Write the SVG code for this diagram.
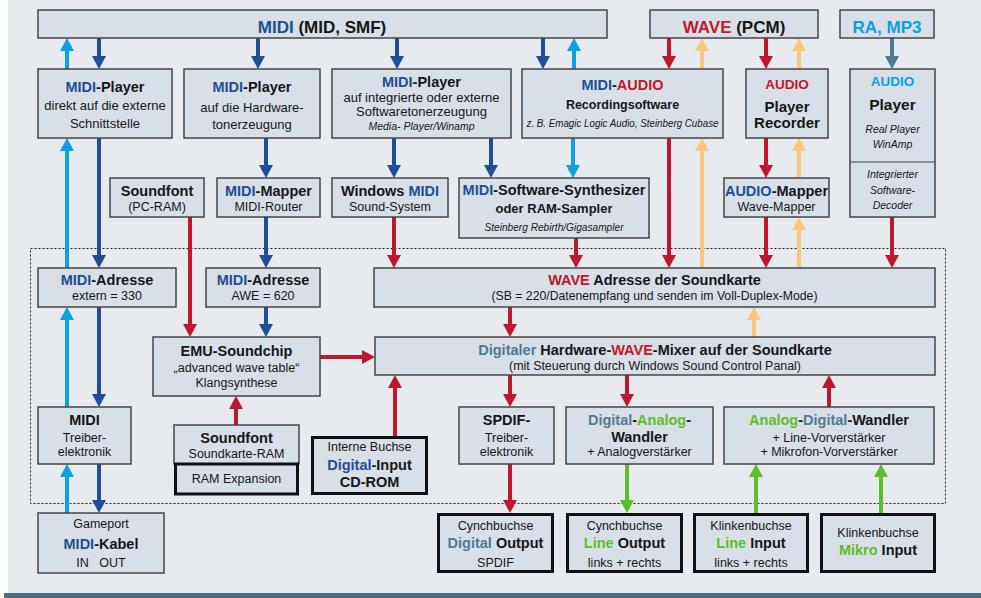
<svg xmlns="http://www.w3.org/2000/svg" width="981" height="598" viewBox="0 0 981 598">
<style>
.b{fill:#d8dfe7;stroke:#454545;stroke-width:1.5}
.bt{fill:#d8dfe7;stroke:#111;stroke-width:3}
text{font-family:'Liberation Sans',Arial,sans-serif;text-anchor:middle;fill:#161616}
.h{font-weight:bold;font-size:17px}
.t{font-weight:bold;font-size:14.5px}
.r{font-size:12.5px}
.m{font-size:13px}
.i{font-style:italic;font-size:10.5px}
.cb{fill:#1f4e96}.cr{fill:#c0182d}.cl{fill:#0aa0e2}.cg{fill:#5cbf2a}.cs{fill:#4f7a93}
.a{stroke-width:4;fill:none}
.ab{stroke:#1f4e96;marker-end:url(#hB)}
.al{stroke:#0aa0e2;marker-end:url(#hL)}
.ar{stroke:#bd1830;marker-end:url(#hR)}
.ap{stroke:#f9c77e;marker-end:url(#hP)}
.ag{stroke:#5cbf2a;marker-end:url(#hG)}
.as{stroke:#4f7a93;marker-end:url(#hS)}
</style>
<defs>
<marker id="hB" markerUnits="userSpaceOnUse" markerWidth="13" markerHeight="14" viewBox="0 0 13 14" refX="3" refY="7" orient="auto"><path d="M0,0 L13,7 L0,14 z" fill="#1f4e96"/></marker>
<marker id="hL" markerUnits="userSpaceOnUse" markerWidth="13" markerHeight="14" viewBox="0 0 13 14" refX="3" refY="7" orient="auto"><path d="M0,0 L13,7 L0,14 z" fill="#0aa0e2"/></marker>
<marker id="hR" markerUnits="userSpaceOnUse" markerWidth="13" markerHeight="14" viewBox="0 0 13 14" refX="3" refY="7" orient="auto"><path d="M0,0 L13,7 L0,14 z" fill="#bd1830"/></marker>
<marker id="hP" markerUnits="userSpaceOnUse" markerWidth="13" markerHeight="14" viewBox="0 0 13 14" refX="3" refY="7" orient="auto"><path d="M0,0 L13,7 L0,14 z" fill="#f9c77e"/></marker>
<marker id="hG" markerUnits="userSpaceOnUse" markerWidth="13" markerHeight="14" viewBox="0 0 13 14" refX="3" refY="7" orient="auto"><path d="M0,0 L13,7 L0,14 z" fill="#5cbf2a"/></marker>
<marker id="hS" markerUnits="userSpaceOnUse" markerWidth="13" markerHeight="14" viewBox="0 0 13 14" refX="3" refY="7" orient="auto"><path d="M0,0 L13,7 L0,14 z" fill="#4f7a93"/></marker>
</defs>
<rect x="0" y="0" width="981" height="598" fill="#ffffff"/>
<rect x="8" y="0" width="973" height="593" fill="#e7ebef"/>
<rect x="4" y="593" width="977" height="5" fill="#4e6c82"/>
<rect x="30.5" y="248.5" width="915" height="255" fill="none" stroke="#222" stroke-width="1" stroke-dasharray="2 2"/>

<g id="connectors" class="a">
<line class="ab" x1="99" y1="38" x2="99" y2="59"/>
<line class="ab" x1="99" y1="138" x2="99" y2="258"/>
<line class="ab" x1="99" y1="307" x2="99" y2="397"/>
<line class="ab" x1="99" y1="464" x2="99" y2="503"/>
<line class="ab" x1="258" y1="38" x2="258" y2="59"/>
<line class="ab" x1="397" y1="38" x2="397" y2="59"/>
<line class="ab" x1="543" y1="38" x2="543" y2="59"/>
<line class="ab" x1="266" y1="138" x2="266" y2="168"/>
<line class="ab" x1="266" y1="217" x2="266" y2="258"/>
<line class="ab" x1="266" y1="307" x2="266" y2="327"/>
<line class="ab" x1="394" y1="138" x2="394" y2="168"/>
<line class="ab" x1="491" y1="138" x2="491" y2="168"/>
<line class="al" x1="67" y1="69" x2="67" y2="48"/>
<line class="al" x1="67" y1="268" x2="67" y2="148"/>
<line class="al" x1="67" y1="407" x2="67" y2="317"/>
<line class="al" x1="67" y1="513" x2="67" y2="474"/>
<line class="al" x1="574" y1="69" x2="574" y2="48"/>
<line class="al" x1="573" y1="138" x2="573" y2="168"/>
<line class="ar" x1="669" y1="38" x2="669" y2="59"/>
<line class="ar" x1="669" y1="138" x2="669" y2="258"/>
<line class="ar" x1="766" y1="38" x2="766" y2="59"/>
<line class="ar" x1="766" y1="138" x2="766" y2="168"/>
<line class="ar" x1="766" y1="217" x2="766" y2="258"/>
<line class="ar" x1="892" y1="217" x2="892" y2="258"/>
<line class="ar" x1="190" y1="217" x2="190" y2="327"/>
<line class="ar" x1="394" y1="217" x2="394" y2="258"/>
<line class="ar" x1="576" y1="238" x2="576" y2="258"/>
<line class="ar" x1="510" y1="307" x2="510" y2="327"/>
<line class="ar" x1="510" y1="375" x2="510" y2="397"/>
<line class="ar" x1="510" y1="464" x2="510" y2="503"/>
<line class="ar" x1="627" y1="375" x2="627" y2="397"/>
<line class="ar" x1="236" y1="425" x2="236" y2="406"/>
<line class="ar" x1="395" y1="436" x2="395" y2="385"/>
<line class="ar" x1="829" y1="407" x2="829" y2="385"/>
<line class="ar" x1="320" y1="357" x2="365" y2="357"/>
<line class="ap" x1="702" y1="69" x2="702" y2="48"/>
<line class="ap" x1="702" y1="268" x2="702" y2="148"/>
<line class="ap" x1="799" y1="69" x2="799" y2="48"/>
<line class="ap" x1="799" y1="178" x2="799" y2="148"/>
<line class="ap" x1="799" y1="268" x2="799" y2="227"/>
<line class="ap" x1="754" y1="337" x2="754" y2="317"/>
<line class="as" x1="892" y1="38" x2="892" y2="59"/>
<line class="ag" x1="627" y1="464" x2="627" y2="503"/>
<line class="ag" x1="756" y1="513" x2="756" y2="474"/>
<line class="ag" x1="881" y1="513" x2="881" y2="474"/>
</g>

<g id="midi-top"><rect class="b" x="38" y="10" width="569" height="28"/><text class="h" x="322" y="33"><tspan class="cb">MIDI</tspan> (MID, SMF)</text></g>
<g id="wave-top"><rect class="b" x="650" y="10" width="168" height="28"/><text class="h" x="734" y="33"><tspan class="cr">WAVE</tspan> (PCM)</text></g>
<g id="ra-top"><rect class="b" x="840" y="10" width="94" height="28"/><text class="h cl" x="887" y="33">RA, MP3</text></g>

<g id="midi-player-ext"><rect class="b" x="38" y="69" width="134" height="69"/>
<text class="t" x="105" y="92"><tspan class="cb">MIDI</tspan>-Player</text>
<text class="m" x="105" y="110">direkt auf die externe</text>
<text class="m" x="105" y="128">Schnittstelle</text></g>

<g id="midi-player-hw"><rect class="b" x="184" y="69" width="136" height="69"/>
<text class="t" x="252" y="92"><tspan class="cb">MIDI</tspan>-Player</text>
<text class="m" x="252" y="112">auf die Hardware-</text>
<text class="m" x="252" y="129">tonerzeugung</text></g>

<g id="midi-player-sw"><rect class="b" x="332" y="69" width="179" height="69"/>
<text class="t" x="421.5" y="87"><tspan class="cb">MIDI</tspan>-Player</text>
<text class="m" x="421.5" y="102">auf integrierte oder externe</text>
<text class="m" x="421.5" y="116">Softwaretonerzeugung</text>
<text class="i" x="421.5" y="130">Media- Player/Winamp</text></g>

<g id="midi-audio"><rect class="b" x="522" y="69" width="201" height="69"/>
<text class="t" x="622.5" y="90"><tspan class="cb">MIDI</tspan>-<tspan class="cr">AUDIO</tspan></text>
<text x="622.5" y="109" style="font-weight:bold;font-size:12.5px">Recordingsoftware</text>
<text class="i" x="622.5" y="127" textLength="192" lengthAdjust="spacingAndGlyphs">z. B. Emagic Logic Audio, Steinberg Cubase</text></g>

<g id="audio-player-rec"><rect class="b" x="746" y="69" width="82" height="69"/>
<text class="t cr" x="787" y="89" style="font-size:13.5px">AUDIO</text>
<text class="t" x="787" y="112" style="font-size:15px">Player</text>
<text class="t" x="787" y="128" style="font-size:15px">Recorder</text></g>

<g id="audio-player-ra"><rect class="b" x="850" y="69" width="85" height="148"/>
<line x1="850" y1="162" x2="935" y2="162" stroke="#454545" stroke-width="1.2"/>
<text class="t cl" x="892.5" y="86" style="font-size:13.5px">AUDIO</text>
<text class="t" x="892.5" y="110" style="font-size:15.5px">Player</text>
<text class="i" x="892.5" y="133">Real Player</text>
<text class="i" x="892.5" y="148">WinAmp</text>
<text class="i" x="892.5" y="178">Integrierter</text>
<text class="i" x="892.5" y="194">Software-</text>
<text class="i" x="892.5" y="209">Decoder</text></g>

<g id="soundfont-pc"><rect class="b" x="110" y="178" width="94" height="39"/>
<text class="t" x="157" y="196">Soundfont</text>
<text class="r" x="157" y="211">(PC-RAM)</text></g>

<g id="midi-mapper"><rect class="b" x="217" y="178" width="103" height="39"/>
<text class="t" x="268.5" y="196"><tspan class="cb">MIDI</tspan>-Mapper</text>
<text class="r" x="268.5" y="211">MIDI-Router</text></g>

<g id="windows-midi"><rect class="b" x="332" y="178" width="116" height="39"/>
<text class="t" x="390" y="196">Windows <tspan class="cb">MIDI</tspan></text>
<text class="r" x="390" y="211">Sound-System</text></g>

<g id="midi-synth"><rect class="b" x="459" y="178" width="190" height="60"/>
<text class="t" x="554" y="195"><tspan class="cb">MIDI</tspan>-Software-Synthesizer</text>
<text x="554" y="213" style="font-weight:bold;font-size:13px">oder RAM-Sampler</text>
<text class="i" x="554" y="231" textLength="139" lengthAdjust="spacingAndGlyphs">Steinberg Rebirth/Gigasampler</text></g>

<g id="audio-mapper"><rect class="b" x="724" y="178" width="105" height="39"/>
<text class="t" x="776.5" y="196"><tspan class="cb">AUDIO</tspan>-Mapper</text>
<text class="r" x="776.5" y="211">Wave-Mapper</text></g>

<g id="midi-adresse-ext"><rect class="b" x="38" y="268" width="138" height="39"/>
<text class="t" x="107" y="285"><tspan class="cb">MIDI</tspan>-Adresse</text>
<text class="r" x="107" y="300">extern = 330</text></g>

<g id="midi-adresse-awe"><rect class="b" x="206" y="268" width="114" height="39"/>
<text class="t" x="263" y="285"><tspan class="cb">MIDI</tspan>-Adresse</text>
<text class="r" x="263" y="300">AWE = 620</text></g>

<g id="wave-adresse"><rect class="b" x="374" y="268" width="561" height="39"/>
<text class="t" x="654.5" y="285"><tspan class="cr">WAVE</tspan> Adresse der Soundkarte</text>
<text class="r" x="654.5" y="300" textLength="326" lengthAdjust="spacingAndGlyphs">(SB = 220/Datenempfang und senden im Voll-Duplex-Mode)</text></g>

<g id="emu-soundchip"><rect class="b" x="153" y="337" width="167" height="59"/>
<text class="t" x="236.5" y="356">EMU-Soundchip</text>
<text class="r" x="236.5" y="372">„advanced wave table“</text>
<text class="r" x="236.5" y="387">Klangsynthese</text></g>

<g id="mixer"><rect class="b" x="375" y="337" width="560" height="38"/>
<text class="t" x="655" y="355"><tspan class="cs">Digitaler</tspan> Hardware-<tspan class="cr">WAVE</tspan>-Mixer auf der Soundkarte</text>
<text class="r" x="655" y="370" textLength="292" lengthAdjust="spacingAndGlyphs">(mit Steuerung durch Windows Sound Control Panal)</text></g>

<g id="midi-treiber"><rect class="b" x="38" y="407" width="93" height="57"/>
<text class="t" x="84.5" y="425">MIDI</text>
<text class="r" x="84.5" y="442">Treiber-</text>
<text class="r" x="84.5" y="456">elektronik</text></g>

<g id="soundfont-karte"><rect class="b" x="174" y="425" width="125" height="39"/>
<text class="t" x="236.5" y="443">Soundfont</text>
<text class="r" x="236.5" y="458">Soundkarte-RAM</text></g>

<g id="ram-expansion"><rect class="bt" x="175.5" y="464" width="122" height="30"/>
<text class="r" x="236.5" y="483">RAM Expansion</text></g>

<g id="interne-buchse"><rect class="bt" x="312.5" y="437.5" width="114" height="56"/>
<text class="r" x="369.5" y="451">Interne Buchse</text>
<text class="t" x="369.5" y="470"><tspan class="cb">Digital</tspan>-Input</text>
<text class="t" x="369.5" y="487">CD-ROM</text></g>

<g id="spdif-treiber"><rect class="b" x="459" y="407" width="95" height="57"/>
<text class="t" x="506.5" y="425">SPDIF-</text>
<text class="r" x="506.5" y="442">Treiber-</text>
<text class="r" x="506.5" y="456">elektronik</text></g>

<g id="da-wandler"><rect class="b" x="566" y="407" width="147" height="57"/>
<text class="t" x="639.5" y="425"><tspan class="cs">Digital</tspan>-<tspan class="cg">Analog</tspan>-</text>
<text class="t" x="639.5" y="442">Wandler</text>
<text class="r" x="639.5" y="456">+ Analogverstärker</text></g>

<g id="ad-wandler"><rect class="b" x="724" y="407" width="210" height="57"/>
<text class="t" x="829" y="425"><tspan class="cg">Analog</tspan>-<tspan class="cs">Digital</tspan>-Wandler</text>
<text class="r" x="829" y="442">+ Line-Vorverstärker</text>
<text class="r" x="829" y="456">+ Mikrofon-Vorverstärker</text></g>

<g id="midi-kabel"><rect class="b" x="38" y="513" width="126" height="60"/>
<text class="r" x="101" y="528">Gameport</text>
<text class="t" x="101" y="549"><tspan class="cb">MIDI</tspan>-Kabel</text>
<text class="r" x="101" y="567" xml:space="preserve">IN   OUT</text></g>

<g id="digital-output"><rect class="bt" x="438.5" y="514.5" width="114" height="57"/>
<text class="r" x="495.5" y="530">Cynchbuchse</text>
<text class="t" x="495.5" y="548"><tspan class="cs">Digital</tspan> Output</text>
<text class="r" x="495.5" y="567">SPDIF</text></g>

<g id="line-output"><rect class="bt" x="567.5" y="514.5" width="114" height="57"/>
<text class="r" x="624.5" y="530">Cynchbuchse</text>
<text class="t" x="624.5" y="548"><tspan class="cg">Line</tspan> Output</text>
<text class="r" x="624.5" y="567">links + rechts</text></g>

<g id="line-input"><rect class="bt" x="694.5" y="514.5" width="113" height="57"/>
<text class="r" x="751" y="530">Klinkenbuchse</text>
<text class="t" x="751" y="548"><tspan class="cg">Line</tspan> Input</text>
<text class="r" x="751" y="567">links + rechts</text></g>

<g id="mikro-input"><rect class="bt" x="821.5" y="514.5" width="113" height="57"/>
<text class="r" x="878" y="537">Klinkenbuchse</text>
<text class="t" x="878" y="555"><tspan class="cg">Mikro</tspan> Input</text></g>
</svg>
